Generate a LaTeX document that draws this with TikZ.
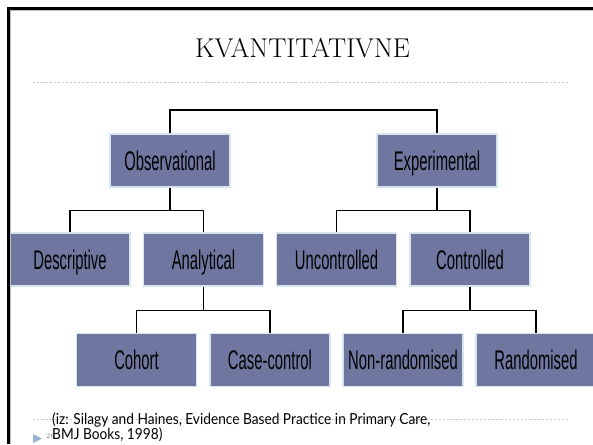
\documentclass[tikz,border=0pt]{standalone}
\usepackage{fontspec}
\usepackage{xcolor}
\usetikzlibrary{calc,positioning}
\newfontfamily\boxfont[FakeStretch=0.55]{Liberation Sans}
\newfontfamily\notefont[FakeStretch=0.9]{Lato}
\definecolor{boxfill}{RGB}{111,119,161}
\definecolor{boxline}{RGB}{214,228,238}
\definecolor{rulecol}{RGB}{190,208,226}
\definecolor{bulletcol}{RGB}{150,180,210}

\begin{document}
\begin{tikzpicture}[x=0.03cm,y=-0.03cm]

    % Styles
    \tikzset{
        box/.style={rectangle, draw=boxline, line width=1pt, fill=boxfill, minimum width=3.6cm, minimum height=1.59cm, inner sep=0pt, font=\boxfont\fontsize{23}{27}\selectfont, text height=16.5pt, text depth=0pt},
        link/.style={line width=0.9pt, black},
        rule/.style={rulecol, line width=0.8pt, dash pattern=on 2pt off 1.5pt}
    }

    \useasboundingbox (0,0) rectangle (593,444);

    % Title and rules
    \node[font=\fontsize{23.2}{27}\selectfont] (title) at (302.5,48.5) {KVANTITATIVNE};
    \draw[rule] (33,82) -- (569,82);
    \draw[rule] (33,419) -- (569,419);

    % Level 1
    \node[box] (obs) at (170,160.5) {Observational};
    \node[box] (exp) at (437,160.5) {Experimental};

    % Level 2
    \node[box] (desc) at (70,259.5) {Descriptive};
    \node[box] (anal) at (203.5,259.5) {Analytical};
    \node[box] (unc) at (336.5,259.5) {Uncontrolled};
    \node[box] (ctrl) at (470,259.5) {Controlled};

    % Level 3
    \node[box] (coh) at (136.5,360) {Cohort};
    \node[box] (cc) at (270,360) {Case-control};
    \node[box] (nonr) at (403,360) {Non-randomised};
    \node[box] (rand) at (536,360) {Randomised};

    % Connectors
    \coordinate (top) at (303.5,110);
    \draw[link] (top) -| (obs.north);
    \draw[link] (top) -| (exp.north);

    \draw[link] (obs.south) -- ++(0,23) coordinate (obsbus) -| (desc.north);
    \draw[link] (obsbus) -| (anal.north);
    \draw[link] (exp.south) -- ++(0,23) coordinate (expbus) -| (unc.north);
    \draw[link] (expbus) -| (ctrl.north);

    \draw[link] (anal.south) -- ++(0,24) coordinate (analbus) -| (coh.north);
    \draw[link] (analbus) -| (cc.north);
    \draw[link] (ctrl.south) -- ++(0,24) coordinate (ctrlbus) -| (nonr.north);
    \draw[link] (ctrlbus) -| (rand.north);

    % Frame
    \draw[gray!50, line width=0.6pt] (10.6,444) -- (10.6,10.6) -- (593,10.6);
    \draw[line width=1.8pt] (8.5,444) -- (8.5,8.5) -- (593,8.5);

    % Footer
    \fill[bulletcol] (33,434) -- (42,438.5) -- (33,443) -- cycle;
    \node[font=\fontsize{6}{7}\selectfont, text=gray] (pagenum) at (50.5,436) {26};
    \node[anchor=north west, align=left, inner sep=0pt, font=\notefont\fontsize{13}{13.6}\selectfont] (source) at (52,412) {(iz: Silagy and Haines, Evidence Based Practice in Primary Care,\\BMJ Books, 1998)};

\end{tikzpicture}
\end{document}
